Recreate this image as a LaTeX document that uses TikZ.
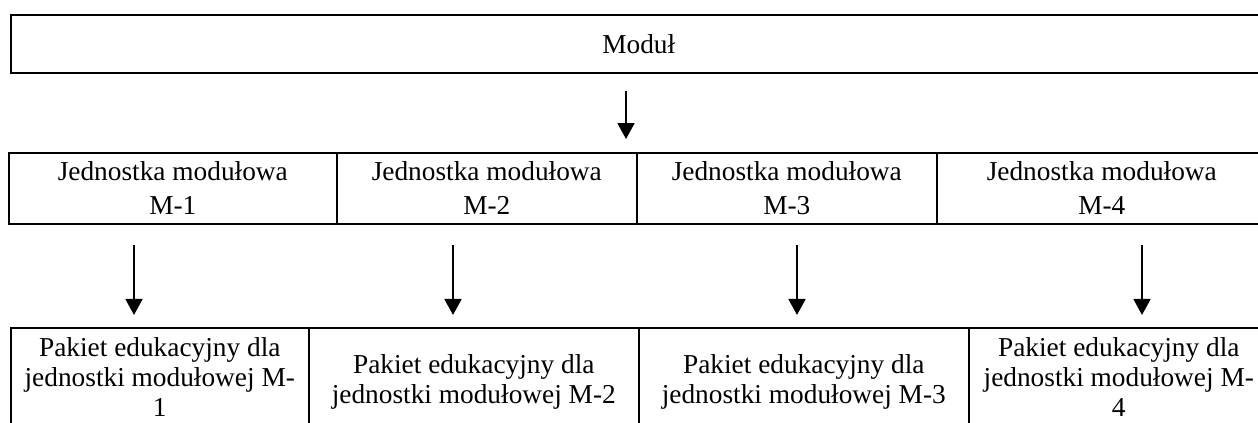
\documentclass[tikz,border=0pt]{standalone}
\usepackage{fontspec}
\setmainfont{Liberation Serif}
\usetikzlibrary{arrows.meta}

\def\px{0.439pt}
\tikzset{
  cell/.style={draw, line width=0.7pt, anchor=north west, inner sep=0pt},
  txt/.style={anchor=north, inner sep=0pt, align=center},
  arr/.style={line width=0.6pt, -{Triangle[length=7pt,width=7.5pt]}}
}

\begin{document}
\begin{tikzpicture}[x=\px, y=-\px]
        \useasboundingbox (0,0) rectangle (1258,423);
        \clip (0,0) rectangle (1258,423);

        \node[cell, minimum width={1256*\px}, minimum height={58*\px}] (modul) at (10,14) {};

        \node[cell, minimum width={328*\px}, minimum height={71*\px}] (m1) at (8,152) {};
        \node[cell, minimum width={300*\px}, minimum height={71*\px}] (m2) at (336,152) {};
        \node[cell, minimum width={300*\px}, minimum height={71*\px}] (m3) at (636,152) {};
        \node[cell, minimum width={330*\px}, minimum height={71*\px}] (m4) at (936,152) {};

        \node[cell, minimum width={298*\px}, minimum height={106*\px}] (p1) at (10,327) {};
        \node[cell, minimum width={330*\px}, minimum height={106*\px}] (p2) at (308,327) {};
        \node[cell, minimum width={330*\px}, minimum height={106*\px}] (p3) at (638,327) {};
        \node[cell, minimum width={300*\px}, minimum height={106*\px}] (p4) at (968,327) {};

        % texts
        \node[txt, font=\fontsize{12}{14}\selectfont] (tmodul) at ([yshift={-20*\px}]modul.north) {Moduł};
        \foreach \i in {1,...,4}
          \node[txt, font=\fontsize{12}{14.9}\selectfont] (tm\i) at ([yshift={-9*\px}]m\i.north) {Jednostka modułowa\\M-\i};
        \node[txt, font=\fontsize{12}{13.2}\selectfont] (tp1) at ([yshift={-10*\px}]p1.north) {Pakiet edukacyjny dla\\jednostki modułowej M-\\1};
        \node[txt, font=\fontsize{12}{13.2}\selectfont] (tp2) at ([yshift={-27*\px}]p2.north) {Pakiet edukacyjny dla\\jednostki modułowej M-2};
        \node[txt, font=\fontsize{12}{13.2}\selectfont] (tp3) at ([yshift={-27*\px}]p3.north) {Pakiet edukacyjny dla\\jednostki modułowej M-3};
        \node[txt, font=\fontsize{12}{13.2}\selectfont] (tp4) at ([yshift={-10*\px}]p4.north) {Pakiet edukacyjny dla\\jednostki modułowej M-\\4};

        \coordinate (x0) at (626,0);
        \draw[arr, shorten <=7.5pt, shorten >=5.7pt] (modul.south -| x0) -- (m1.north -| x0);

        \foreach \i/\x in {1/134,2/453,3/797,4/1142} {
          \coordinate (x\i) at (\x,0);
          \draw[arr, shorten <=8.8pt, shorten >=5.3pt] (m\i.south -| x\i) -- (p\i.north -| x\i);
        }
      \end{tikzpicture}
\end{document}
